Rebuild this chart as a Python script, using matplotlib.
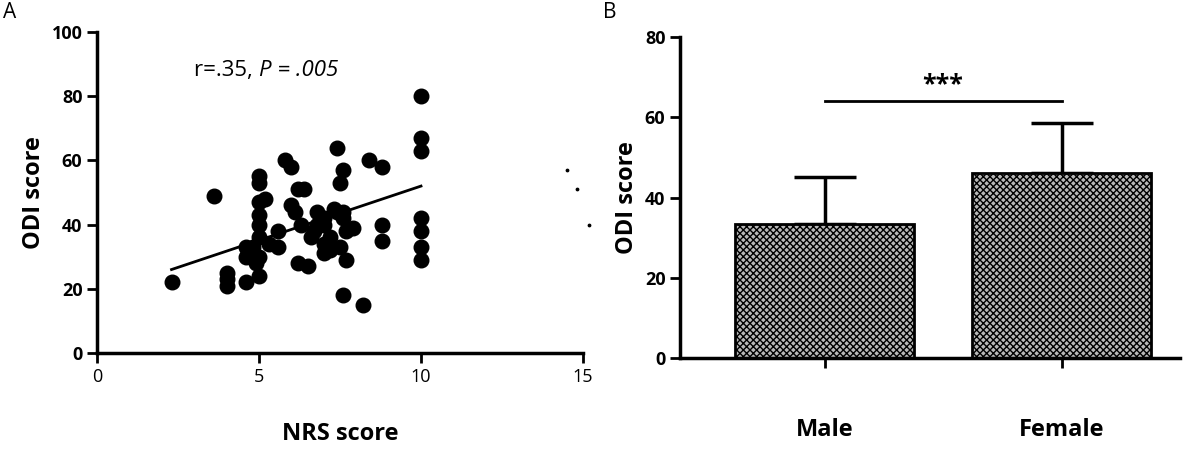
import matplotlib
matplotlib.use("Agg")
import matplotlib.pyplot as plt
import numpy as np

nrs = [2.3,3.6,4,4,4,4.6,4.6,4.6,4.8,4.9,5,5,5,5,5,5,5,5,5.2,5.3,5.6,5.6,5.8,6,6,6.1,6.2,6.4,6.2,6.5,6.6,6.7,6.8,6.8,7,7,7,7.2,7.2,7.3,7.4,7.5,7.6,7.4,7.6,7.6,7.7,7.9,7.5,7.7,7.6,8.2,8.4,8.8,8.8,8.8,10,10,10,10,10,10,10,7,6.3]
odi = [22,49,25,23,21,22,30,33,33,28,24,30,36,40,43,47,53,55,48,34,33,38,60,58,46,44,51,51,28,27,36,38,40,44,42,34,31,32,36,45,64,53,57,44,44,42,38,39,33,29,18,15,60,58,35,40,80,67,63,42,38,33,29,40,40]
fit_x = [2.3, 10]
fit_y = [26, 52]
stray_x = [14.5, 14.8, 15.2]
stray_y = [57, 51, 40]
groups = ["Male", "Female"]
means = [33.5, 46]
errs = [11.5, 12.5]

plt.rcParams['font.family'] = ['Open Sans', 'DejaVu Sans']
fig = plt.figure(figsize=(11.89, 4.49), dpi=100)
W, H = 1189, 449
axA = fig.add_axes([97/W, 1-353/H, (583-97)/W, (353-32)/H])
axA.scatter(nrs, odi, s=110, c='black', zorder=3)
axA.plot(fit_x, fit_y, color='black', lw=2)
axA.scatter(stray_x, stray_y, s=3, c='black', clip_on=False)
axA.set_xlim(0, 15); axA.set_ylim(0, 100)
axA.set_xticks([0,5,10,15]); axA.set_yticks(range(0,101,20))
axA.text(5, 88, "r=.35, ", fontsize=16, ha='right', va='center')
axA.text(5, 88, "P = .005", fontsize=16, style='italic', ha='left', va='center')
axA.set_xlabel("NRS score", fontsize=17, fontweight='bold', labelpad=26)
axA.set_ylabel("ODI score", fontsize=17, fontweight='bold')

axB = fig.add_axes([680/W, 1-358/H, (1180-680)/W, (358-37)/H])
x = np.array([0.55, 1.45])
axB.bar(x, means, width=0.68, color='#b8b8b8', edgecolor='black', hatch='xxxxx', lw=2, zorder=2)
axB.errorbar(x, means, yerr=[[0,0], errs], fmt='none', ecolor='black', elinewidth=2.5, capsize=22, capthick=2.5, zorder=1)
axB.plot([x[0], x[1]], [64, 64], color='black', lw=2)
axB.text(1.0, 65, "***", fontsize=18, fontweight='bold', ha='center', va='bottom')
axB.set_xlim(0, 1.9); axB.set_ylim(0, 80)
axB.set_yticks(range(0,81,20))
axB.set_xticks(x); axB.set_xticklabels(groups, fontsize=17, fontweight='bold')
axB.tick_params(axis='x', pad=36, length=8, width=2)
axB.set_ylabel("ODI score", fontsize=17, fontweight='bold')

for ax in (axA, axB):
    for s in ('top', 'right'):
        ax.spines[s].set_visible(False)
    for s in ('left', 'bottom'):
        ax.spines[s].set_linewidth(2.5)
    ax.tick_params(width=2, length=7, labelsize=13)
    for l in ax.get_yticklabels(): l.set_fontweight('bold')
for l in axA.get_xticklabels(): l.set_fontweight('normal')
for l in axB.get_xticklabels(): l.set_fontsize(17)
axB.tick_params(axis='x', pad=36)

fig.text(3/W, 1-12/H, "A", fontsize=15, va='center')
fig.text(603/W, 1-12/H, "B", fontsize=15, va='center')
fig.savefig("out.png", dpi=100)
